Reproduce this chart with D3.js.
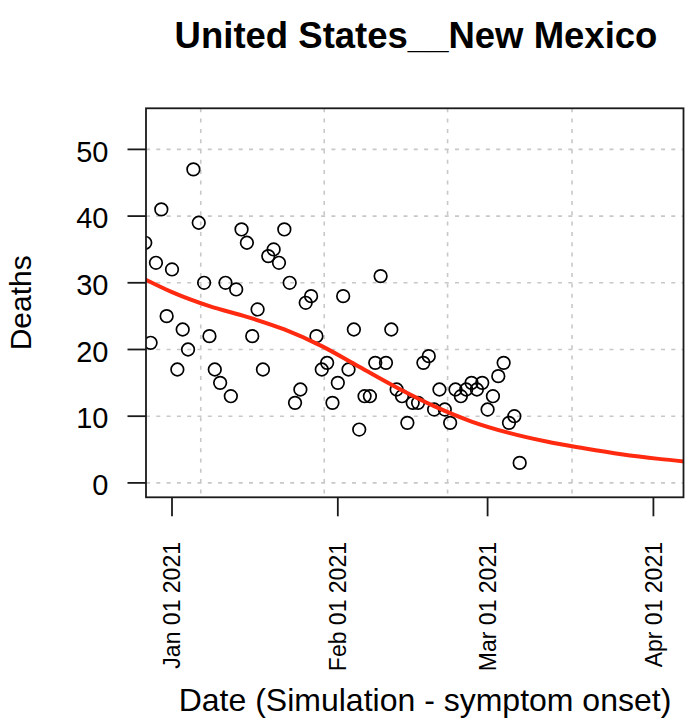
<!DOCTYPE html>
<html>
<head>
<meta charset="utf-8">
<script src="https://cdn.jsdelivr.net/npm/d3@7"></script>
<style>
  body { margin: 0; background: #fff; }
  text { font-family: "Liberation Sans", Arial, Helvetica, sans-serif; fill: #000; }
</style>
</head>
<body>
<script>
// daily deaths, one point per day from the first date on
var firstDay = "2020-12-27";
var deaths = [36, 21, 33, 41, 25, 32, 17, 23, 20, 47,
              39, 30, 22, 17, 15, 30, 13, 29, 38, 36,
              22, 26, 17, 34, 35, 33, 38, 30, 12, 14,
              27, 28, 22, 17, 18, 12, 15, 28, 17, 23,
              8, 13, 13, 18, 31, 18, 23, 14, 13, 9,
              12, 12, 18, 19, 11, 14, 11, 9, 14, 13,
              14, 15, 14, 15, 11, 13, 16, 18, 9, 10, 3];

// fitted curve (red)
var fitDates = ["2020-12-27", "2021-01-01", "2021-01-08", "2021-01-15", "2021-01-22",
                "2021-01-29", "2021-02-05", "2021-02-12", "2021-02-19", "2021-02-26",
                "2021-03-05", "2021-03-12", "2021-03-19", "2021-03-26", "2021-04-02", "2021-04-07"];
var fitValues = [30.5, 28.6, 26.5, 24.9, 23.0, 20.5, 17.4, 14.3, 11.5, 9.2,
                 7.5, 6.2, 5.2, 4.3, 3.6, 3.2];

var xTicks = ["2021-01-01", "2021-02-01", "2021-03-01", "2021-04-01"];
var xTickLabels = ["Jan 01 2021", "Feb 01 2021", "Mar 01 2021", "Apr 01 2021"];
var xGrid = ["2021-01-06T09:00", "2021-01-29T11:00", "2021-02-21T12:30", "2021-03-16T19:00"];
var yTicks = [0, 10, 20, 30, 40, 50];

var svgWidth = 692, svgHeight = 728;
var box = {left: 146, right: 683.5, top: 108.3, bottom: 497.3};

var parseDay = d3.utcParse("%Y-%m-%d");
var parseTime = d3.utcParse("%Y-%m-%dT%H:%M");

var svg = d3.select("body")
    .append("svg")
    .attr("width", svgWidth)
    .attr("height", svgHeight);

var x = d3.scaleUtc()
    .domain([parseTime("2020-12-27T03:20"), parseTime("2021-04-06T15:00")])
    .range([box.left, box.right]);

var y = d3.scaleLinear()
    .domain([-2.16, 56.16])
    .range([box.bottom, box.top]);

svg.append("clipPath")
  .attr("id", "plotClip")
  .append("rect")
  .attr("x", box.left)
  .attr("y", box.top)
  .attr("width", box.right - box.left)
  .attr("height", box.bottom - box.top);

// grid
var gridStyle = function(sel){
  sel.attr("stroke", "#c8c8c8")
     .attr("stroke-width", 1.6)
     .attr("stroke-dasharray", "4,6.3");
};
svg.selectAll(".vgrid")
  .data(xGrid)
  .enter()
  .append("line")
  .attr("class", "vgrid")
  .attr("x1", function(d){ return x(parseTime(d)); })
  .attr("x2", function(d){ return x(parseTime(d)); })
  .attr("y1", box.top)
  .attr("y2", box.bottom)
  .call(gridStyle);
svg.selectAll(".hgrid")
  .data(yTicks)
  .enter()
  .append("line")
  .attr("class", "hgrid")
  .attr("x1", box.left)
  .attr("x2", box.right)
  .attr("y1", function(d){ return y(d); })
  .attr("y2", function(d){ return y(d); })
  .call(gridStyle);

var plot = svg.append("g").attr("clip-path", "url(#plotClip)");

// points
var start = parseDay(firstDay);
plot.selectAll(".pt")
  .data(deaths)
  .enter()
  .append("circle")
  .attr("class", "pt")
  .attr("cx", function(d, i){ return x(d3.utcDay.offset(start, i)); })
  .attr("cy", function(d){ return y(d); })
  .attr("r", 6.3)
  .attr("fill", "none")
  .attr("stroke", "#000")
  .attr("stroke-width", 1.7);

// fitted line
var fit = fitDates.map(function(d, i){ return {date: parseDay(d), value: fitValues[i]}; });
var line = d3.line()
    .x(function(d){ return x(d.date); })
    .y(function(d){ return y(d.value); })
    .curve(d3.curveMonotoneX);
plot.append("path")
  .datum(fit)
  .attr("d", line)
  .attr("fill", "none")
  .attr("stroke", "#ff2a10")
  .attr("stroke-width", 4);

// box
svg.append("rect")
  .attr("x", box.left)
  .attr("y", box.top)
  .attr("width", box.right - box.left)
  .attr("height", box.bottom - box.top)
  .attr("fill", "none")
  .attr("stroke", "#1a1a1a")
  .attr("stroke-width", 1.8);

// y axis
var yAxis = svg.append("g");
yAxis.selectAll("line")
  .data(yTicks)
  .enter()
  .append("line")
  .attr("x1", box.left - 18.5)
  .attr("x2", box.left)
  .attr("y1", function(d){ return y(d); })
  .attr("y2", function(d){ return y(d); })
  .attr("stroke", "#1a1a1a")
  .attr("stroke-width", 1.8);
yAxis.selectAll("text")
  .data(yTicks)
  .enter()
  .append("text")
  .attr("x", 108.5)
  .attr("y", function(d){ return y(d); })
  .attr("dy", "0.42em")
  .attr("text-anchor", "end")
  .attr("font-size", "29px")
  .text(function(d){ return d; });

// x axis
var xAxis = svg.append("g");
xAxis.selectAll("line")
  .data(xTicks)
  .enter()
  .append("line")
  .attr("x1", function(d){ return x(parseDay(d)); })
  .attr("x2", function(d){ return x(parseDay(d)); })
  .attr("y1", box.bottom)
  .attr("y2", box.bottom + 19)
  .attr("stroke", "#1a1a1a")
  .attr("stroke-width", 1.8);
xAxis.selectAll("text")
  .data(xTicks)
  .enter()
  .append("text")
  .attr("transform", function(d){ return "translate(" + x(parseDay(d)) + "," + 542 + ") rotate(-90)"; })
  .attr("dy", "0.36em")
  .attr("text-anchor", "end")
  .attr("font-size", "23px")
  .text(function(d, i){ return xTickLabels[i]; });

// titles
svg.append("text")
  .attr("x", 416)
  .attr("y", 48)
  .attr("text-anchor", "middle")
  .attr("font-size", "36.5px")
  .attr("font-weight", "bold")
  .text("United States__New Mexico");

svg.append("text")
  .attr("x", 425)
  .attr("y", 711)
  .attr("text-anchor", "middle")
  .attr("font-size", "32px")
  .text("Date (Simulation - symptom onset)");

svg.append("text")
  .attr("transform", "translate(31," + (box.top + box.bottom) / 2 + ") rotate(-90)")
  .attr("text-anchor", "middle")
  .attr("font-size", "30px")
  .text("Deaths");
</script>
</body>
</html>
